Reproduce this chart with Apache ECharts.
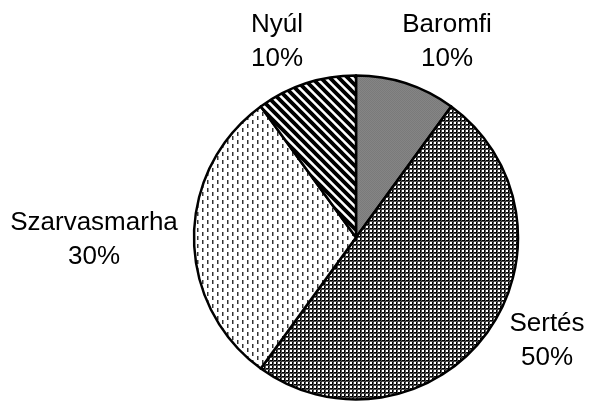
<!DOCTYPE html>
<html>
<head>
<meta charset="utf-8">
<script src="https://cdn.jsdelivr.net/npm/echarts@6/dist/echarts.min.js"></script>
<style>
html,body{margin:0;padding:0;background:#fff;}
#main{width:590px;height:401px;}
</style>
</head>
<body>
<div id="main"></div>
<script>
var categories = ['Baromfi', 'Sertés', 'Szarvasmarha', 'Nyúl'];
var values = [10, 50, 30, 10];

// label centres (Excel style outside end labels)
var labelPos = [[447, 42], [547, 341], [94, 240], [277, 42]];

function tile(w, h, draw){
    var c = document.createElement('canvas');
    c.width = w; c.height = h;
    var ctx = c.getContext('2d');
    ctx.fillStyle = '#fff';
    ctx.fillRect(0, 0, w, h);
    draw(ctx);
    return {image: c, repeat: 'repeat'};
}

//灰色
var grayFill = tile(2, 2, function(ctx){
    ctx.fillStyle = '#858585';
    ctx.fillRect(0, 0, 2, 2);
    ctx.fillStyle = '#7a7a7a';
    ctx.fillRect(0, 0, 1, 1);
    ctx.fillRect(1, 1, 1, 1);
});

//网格
var gridFill = tile(4, 4, function(ctx){
    ctx.fillStyle = '#000';
    ctx.fillRect(0, 0, 4, 1);
    ctx.fillRect(0, 0, 1, 4);
    ctx.fillStyle = '#555';
    ctx.fillRect(0, 1, 4, 1);
    ctx.fillRect(1, 0, 1, 4);
    ctx.fillStyle = '#222';
    ctx.fillRect(1, 1, 1, 1);
});

//虚线点
var dashFill = tile(10, 8, function(ctx){
    ctx.fillStyle = '#333';
    ctx.fillRect(2, 0, 1, 4);
    ctx.fillRect(7, 4, 1, 4);
    ctx.fillStyle = '#999';
    ctx.fillRect(3, 0, 1, 4);
    ctx.fillRect(8, 4, 1, 4);
});

//斜线
var stripeFill = tile(9, 9, function(ctx){
    ctx.strokeStyle = '#000';
    ctx.lineWidth = 3.8;
    ctx.beginPath();
    ctx.moveTo(-2, -2); ctx.lineTo(11, 11);
    ctx.moveTo(-11, -2); ctx.lineTo(2, 11);
    ctx.moveTo(7, -2); ctx.lineTo(20, 11);
    ctx.stroke();
});

var fills = [grayFill, gridFill, dashFill, stripeFill];

var chart = echarts.init(document.getElementById('main'), null, {renderer: 'canvas'});

var seriesData = [];
for (var i = 0; i < categories.length; i++) {
    seriesData.push({
        name: categories[i],
        value: values[i],
        itemStyle: {color: fills[i]}
    });
}

var option = {
    backgroundColor: '#fff',
    animation: false,
    series: [
        {
            type: 'pie',
            center: [356, 237.5],
            radius: [0, 162],
            startAngle: 90,
            clockwise: true,
            data: seriesData,
            itemStyle: {
                borderColor: '#000',
                borderWidth: 2.5
            },
            emphasis: {disabled: true},
            label: {
                show: true,
                position: 'outside',
                formatter: '{b}\n{d}%',
                fontFamily: 'Liberation Sans, Arial, sans-serif',
                fontSize: 26,
                lineHeight: 34,
                color: '#000',
                align: 'center',
                overflow: 'none',
                width: 220
            },
            labelLine: {show: false},
            labelLayout: function(params){
                var p = labelPos[params.dataIndex];
                return {x: p[0], y: p[1], align: 'center', verticalAlign: 'middle'};
            }
        }
    ]
};
chart.setOption(option);
</script>
</body>
</html>
